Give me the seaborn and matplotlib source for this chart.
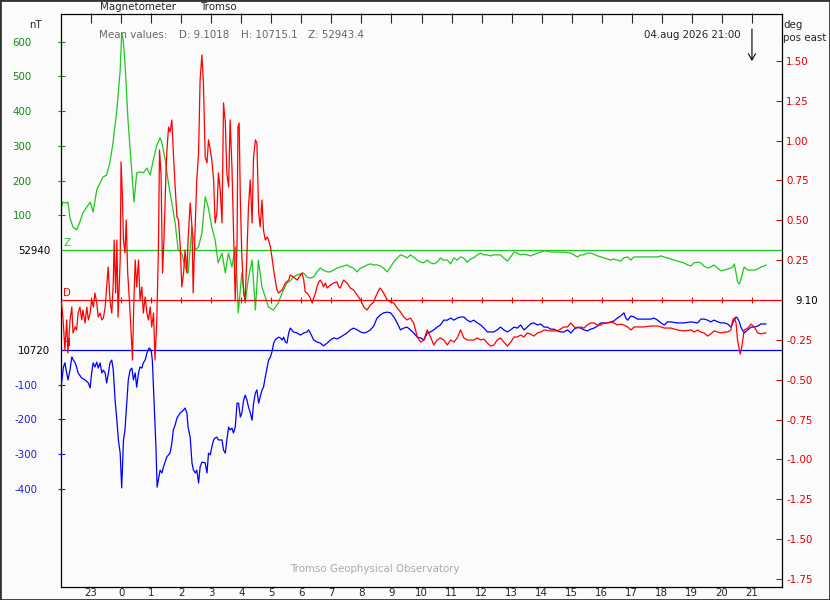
# magnetograma Tromso - componentes D, H, Z
# reproduce la figura de 24 h con lineas base y ejes independientes

import numpy as np
import matplotlib
matplotlib.use("Agg")
import matplotlib.pyplot as plt
import seaborn as sns
from matplotlib import font_manager
from matplotlib.patches import Rectangle

# lineas base y valores medios
Z0, H0, D0 = 52940, 10720, 9.10
MEAN_D, MEAN_H, MEAN_Z = "9.1018", "10715.1", "52943.4"

# tiempo en horas desde medianoche del 04.aug (empieza 22:00 del dia anterior)
z_t = [-1.98, -1.93, -1.81, -1.77, -1.70, -1.60, -1.48, -1.37, -1.27, -1.14, -1.03, -0.93, -0.81, -0.70, -0.60,
       -0.48, -0.37, -0.27, -0.14, -0.03, 0.02, 0.07, 0.13, 0.23, 0.36, 0.43, 0.52, 0.63, 0.74, 0.86, 0.97, 1.07,
       1.19, 1.30, 1.36, 1.47, 1.57, 1.69, 1.80, 1.90, 2.02, 2.13, 2.23, 2.36, 2.47, 2.58, 2.69, 2.80, 2.90, 3.02,
       3.13, 3.23, 3.36, 3.47, 3.57, 3.69, 3.80, 3.86, 3.90, 4.02, 4.13, 4.23, 4.36, 4.47, 4.57, 4.69, 4.80, 4.90,
       5.07, 5.23, 5.36, 5.52, 5.63, 5.73, 5.86, 6.07, 6.19, 6.30, 6.40, 6.52, 6.63, 6.73, 6.86, 6.97, 7.07, 7.19,
       7.30, 7.40, 7.52, 7.63, 7.73, 7.86, 7.97, 8.07, 8.19, 8.30, 8.40, 8.52, 8.63, 8.73, 8.86, 8.97, 9.07, 9.19,
       9.30, 9.40, 9.52, 9.63, 9.73, 9.86, 9.97, 10.07, 10.19, 10.30, 10.41, 10.52, 10.63, 10.73, 10.86, 10.97,
       11.07, 11.19, 11.30, 11.40, 11.52, 11.63, 11.73, 11.86, 11.97, 12.07, 12.19, 12.30, 12.40, 12.52, 12.63,
       12.74, 12.86, 12.97, 13.08, 13.19, 13.30, 13.40, 13.52, 13.63, 13.86, 14.07, 14.19, 14.30, 14.52, 14.73,
       14.97, 15.07, 15.19, 15.30, 15.40, 15.52, 15.63, 15.73, 15.86, 15.97, 16.07, 16.19, 16.30, 16.40, 16.52,
       16.63, 16.73, 16.86, 16.97, 17.07, 17.19, 17.40, 17.63, 17.86, 17.97, 18.07, 18.19, 18.30, 18.40, 18.52,
       18.63, 18.73, 18.86, 18.97, 19.07, 19.19, 19.30, 19.40, 19.52, 19.63, 19.73, 19.86, 19.97, 20.07, 20.19,
       20.30, 20.36, 20.41, 20.47, 20.52, 20.58, 20.63, 20.69, 20.74, 20.86, 20.97, 21.07, 21.19, 21.30, 21.40,
       21.47]
# Z - 52940 en nT
z_dn = [124, 138, 135, 138, 92, 66, 58, 81, 107, 124, 138, 109, 173, 193, 210, 216, 253, 308, 403, 518, 625, 605,
        539, 374, 222, 138, 222, 225, 222, 236, 216, 259, 302, 323, 308, 259, 196, 135, 78, 0, -9, -49, -66, 66, 0,
        9, 49, 153, 124, 66, 29, -37, -9, -66, -9, -49, 9, -86, -181, -66, -153, -86, -29, -173, -29, -107, -135,
        -164, -173, -153, -124, -95, -89, -78, -72, -66, -78, -81, -78, -63, -52, -58, -63, -63, -58, -52, -49, -46,
        -43, -49, -52, -63, -52, -49, -43, -40, -43, -43, -46, -52, -63, -49, -35, -23, -14, -17, -23, -14, -20,
        -29, -35, -37, -29, -37, -40, -35, -23, -29, -29, -40, -23, -29, -20, -23, -35, -26, -23, -14, -9, -14, -14,
        -17, -14, -14, -14, -23, -32, -20, -6, -9, -14, -12, -14, -17, -9, -3, -3, -6, -6, -6, -9, -14, -20, -14,
        -14, -9, -9, -12, -17, -20, -23, -26, -29, -26, -29, -32, -23, -20, -29, -20, -20, -20, -20, -20, -17, -20,
        -23, -26, -29, -32, -35, -37, -43, -46, -37, -35, -37, -46, -52, -49, -43, -52, -60, -58, -55, -52, -49,
        -40, -66, -92, -98, -86, -66, -49, -58, -58, -58, -55, -49, -46, -43]

d_t = [-1.98, -1.93, -1.87, -1.81, -1.77, -1.70, -1.64, -1.60, -1.53, -1.48, -1.43, -1.37, -1.31, -1.27, -1.20,
       -1.14, -1.09, -1.03, -0.98, -0.92, -0.87, -0.81, -0.76, -0.70, -0.64, -0.59, -0.53, -0.48, -0.43, -0.37,
       -0.31, -0.26, -0.23, -0.18, -0.14, -0.10, -0.03, 0.00, 0.04, 0.08, 0.13, 0.17, 0.22, 0.27, 0.33, 0.38, 0.42,
       0.47, 0.52, 0.58, 0.63, 0.69, 0.74, 0.80, 0.86, 0.91, 0.97, 1.02, 1.08, 1.13, 1.19, 1.24, 1.28, 1.33, 1.38,
       1.43, 1.49, 1.52, 1.58, 1.63, 1.69, 1.74, 1.80, 1.86, 1.91, 1.97, 2.02, 2.08, 2.13, 2.19, 2.23, 2.30, 2.36,
       2.40, 2.47, 2.52, 2.58, 2.63, 2.69, 2.74, 2.80, 2.86, 2.91, 2.97, 3.02, 3.08, 3.13, 3.19, 3.24, 3.30, 3.36,
       3.41, 3.47, 3.52, 3.58, 3.63, 3.69, 3.74, 3.80, 3.86, 3.89, 3.93, 3.97, 4.02, 4.08, 4.13, 4.19, 4.24, 4.30,
       4.36, 4.41, 4.47, 4.52, 4.58, 4.63, 4.69, 4.74, 4.80, 4.86, 4.91, 4.97, 5.02, 5.08, 5.13, 5.19, 5.24, 5.36,
       5.47, 5.58, 5.63, 5.74, 5.86, 5.97, 6.02, 6.08, 6.13, 6.19, 6.30, 6.36, 6.41, 6.47, 6.52, 6.58, 6.63, 6.69,
       6.74, 6.80, 6.86, 6.97, 7.08, 7.19, 7.24, 7.30, 7.36, 7.41, 7.52, 7.63, 7.74, 7.86, 7.97, 8.08, 8.19, 8.30,
       8.41, 8.47, 8.58, 8.63, 8.74, 8.86, 8.97, 9.08, 9.19, 9.30, 9.41, 9.52, 9.63, 9.74, 9.86, 9.97, 10.08,
       10.19, 10.30, 10.41, 10.52, 10.63, 10.74, 10.86, 10.97, 11.08, 11.19, 11.30, 11.41, 11.52, 11.63, 11.74,
       11.86, 11.97, 12.08, 12.19, 12.30, 12.41, 12.52, 12.63, 12.74, 12.86, 12.97, 13.08, 13.19, 13.30, 13.41,
       13.52, 13.63, 13.74, 13.86, 13.97, 14.08, 14.30, 14.52, 14.63, 14.74, 14.86, 14.97, 15.08, 15.19, 15.30,
       15.41, 15.52, 15.63, 15.74, 15.86, 15.97, 16.08, 16.19, 16.30, 16.41, 16.52, 16.63, 16.74, 16.86, 16.97,
       17.08, 17.19, 17.41, 17.63, 17.86, 17.97, 18.08, 18.30, 18.52, 18.74, 18.97, 19.08, 19.19, 19.30, 19.41,
       19.52, 19.63, 19.74, 19.86, 19.97, 20.08, 20.19, 20.30, 20.36, 20.41, 20.47, 20.52, 20.58, 20.61, 20.66,
       20.71, 20.74, 20.86, 20.97, 21.08, 21.19, 21.30, 21.41, 21.47]
# D - 9.10 en grados
d_dg = [-0.019, -0.125, -0.314, -0.125, -0.333, -0.125, -0.044, -0.207, -0.169, -0.188, -0.082, -0.044, -0.125,
        -0.063, -0.144, -0.044, -0.125, -0.082, 0.0, -0.044, 0.044, -0.019, -0.107, -0.082, -0.125, -0.113, -0.044,
        0.082, 0.207, 0.0, -0.082, 0.107, 0.376, 0.044, 0.376, -0.107, 0.251, 0.866, 0.671, 0.376, 0.295, 0.502,
        0.169, 0.019, -0.188, -0.376, -0.044, 0.251, 0.082, 0.251, 0.0, 0.082, -0.082, 0.019, -0.082, -0.125,
        -0.044, -0.169, -0.082, -0.376, -0.125, 0.295, 0.941, 0.784, 0.169, 0.395, 0.772, 0.922, 1.085, 1.054,
        1.129, 0.922, 0.709, 0.521, 0.502, 0.333, 0.082, 0.169, 0.314, 0.169, 0.376, 0.609, 0.458, 0.044, 0.483,
        0.753, 0.922, 1.380, 1.537, 1.361, 0.897, 0.860, 1.004, 0.941, 0.878, 0.753, 0.483, 0.546, 0.797, 0.690,
        0.483, 1.236, 1.110, 0.797, 0.709, 1.129, 0.834, 0.458, 0.0, 0.358, 1.085, 1.110, 0.627, 0.270, 0.044, 0.0,
        0.295, 0.583, 0.753, 0.483, 0.897, 1.004, 0.985, 0.546, 0.458, 0.627, 0.439, 0.376, 0.395, 0.376, 0.333,
        0.270, 0.188, 0.125, 0.063, 0.044, 0.063, 0.107, 0.125, 0.157, 0.144, 0.125, 0.157, 0.169, 0.125, 0.050,
        0.044, 0.013, -0.019, 0.013, 0.044, 0.082, 0.113, 0.125, 0.107, 0.082, 0.107, 0.075, 0.094, 0.107, 0.113,
        0.082, 0.075, 0.107, 0.125, 0.107, 0.075, 0.063, 0.031, 0.0, -0.044, -0.063, -0.031, -0.013, 0.019, 0.063,
        0.075, 0.044, 0.0, -0.013, -0.019, -0.050, -0.075, -0.107, -0.125, -0.113, -0.144, -0.232, -0.264, -0.251,
        -0.188, -0.232, -0.282, -0.251, -0.238, -0.251, -0.282, -0.251, -0.264, -0.238, -0.188, -0.238, -0.251,
        -0.251, -0.251, -0.238, -0.251, -0.245, -0.270, -0.289, -0.282, -0.251, -0.238, -0.264, -0.289, -0.264,
        -0.232, -0.232, -0.220, -0.232, -0.207, -0.213, -0.226, -0.207, -0.201, -0.188, -0.194, -0.194, -0.182,
        -0.169, -0.169, -0.144, -0.169, -0.176, -0.169, -0.176, -0.157, -0.144, -0.144, -0.157, -0.157, -0.144,
        -0.144, -0.138, -0.144, -0.157, -0.151, -0.157, -0.169, -0.188, -0.169, -0.169, -0.169, -0.163, -0.163,
        -0.169, -0.176, -0.176, -0.188, -0.194, -0.188, -0.201, -0.188, -0.201, -0.207, -0.226, -0.213, -0.194,
        -0.201, -0.207, -0.201, -0.201, -0.188, -0.125, -0.113, -0.144, -0.251, -0.314, -0.339, -0.295, -0.232,
        -0.188, -0.176, -0.151, -0.169, -0.207, -0.213, -0.207, -0.207]

h_t = [-1.98, -1.92, -1.87, -1.81, -1.77, -1.70, -1.64, -1.59, -1.53, -1.48, -1.43, -1.31, -1.20, -1.09, -1.03,
       -0.98, -0.93, -0.87, -0.81, -0.76, -0.70, -0.64, -0.59, -0.53, -0.48, -0.42, -0.37, -0.31, -0.26, -0.20,
       -0.14, -0.09, -0.03, 0.02, 0.08, 0.13, 0.19, 0.24, 0.30, 0.36, 0.41, 0.47, 0.52, 0.58, 0.63, 0.69, 0.74,
       0.80, 0.86, 0.93, 1.00, 1.04, 1.10, 1.16, 1.20, 1.24, 1.30, 1.36, 1.41, 1.52, 1.63, 1.69, 1.74, 1.80, 1.86,
       1.97, 2.08, 2.13, 2.19, 2.23, 2.30, 2.36, 2.41, 2.47, 2.52, 2.58, 2.63, 2.69, 2.80, 2.86, 2.91, 2.97, 3.02,
       3.08, 3.13, 3.19, 3.24, 3.36, 3.41, 3.47, 3.52, 3.58, 3.63, 3.69, 3.74, 3.80, 3.86, 3.91, 3.97, 4.02, 4.08,
       4.13, 4.19, 4.24, 4.30, 4.36, 4.41, 4.47, 4.52, 4.58, 4.63, 4.69, 4.74, 4.80, 4.86, 4.91, 4.97, 5.02, 5.08,
       5.13, 5.24, 5.30, 5.36, 5.41, 5.47, 5.52, 5.58, 5.63, 5.74, 5.86, 5.97, 6.08, 6.19, 6.24, 6.30, 6.41, 6.52,
       6.63, 6.74, 6.86, 6.97, 7.08, 7.19, 7.30, 7.41, 7.52, 7.63, 7.74, 7.86, 7.97, 8.08, 8.19, 8.30, 8.41, 8.52,
       8.63, 8.74, 8.86, 8.97, 9.08, 9.19, 9.30, 9.41, 9.52, 9.63, 9.74, 9.86, 9.97, 10.08, 10.19, 10.30, 10.41,
       10.52, 10.63, 10.74, 10.86, 10.97, 11.08, 11.19, 11.30, 11.41, 11.52, 11.63, 11.74, 11.86, 11.97, 12.08,
       12.19, 12.30, 12.41, 12.52, 12.63, 12.74, 12.86, 12.97, 13.08, 13.19, 13.30, 13.41, 13.52, 13.63, 13.74,
       13.86, 13.97, 14.08, 14.19, 14.30, 14.41, 14.52, 14.63, 14.74, 14.86, 14.97, 15.08, 15.19, 15.30, 15.41,
       15.52, 15.63, 15.74, 15.86, 15.97, 16.08, 16.19, 16.30, 16.41, 16.52, 16.63, 16.74, 16.80, 16.86, 16.97,
       17.08, 17.19, 17.41, 17.63, 17.74, 17.86, 17.97, 18.08, 18.19, 18.30, 18.52, 18.74, 18.97, 19.19, 19.30,
       19.41, 19.52, 19.63, 19.74, 19.86, 19.97, 20.08, 20.19, 20.30, 20.36, 20.41, 20.47, 20.52, 20.58, 20.63,
       20.74, 20.86, 20.97, 21.08, 21.19, 21.30, 21.41, 21.47]
# H - 10720 en nT
h_dn = [-95, -49, -37, -66, -86, -58, -20, -29, -37, -49, -66, -81, -86, -95, -109, -66, -37, -49, -35, -52, -37,
        -66, -58, -66, -95, -66, -37, -29, -58, -144, -202, -259, -297, -397, -259, -230, -153, -86, -58, -52, -86,
        -66, -107, -66, -49, -52, -37, -29, -9, 6, 0, -29, -153, -279, -395, -374, -346, -354, -337, -308, -297,
        -268, -230, -216, -196, -181, -173, -167, -181, -222, -251, -325, -346, -354, -346, -383, -337, -323, -325,
        -354, -297, -302, -279, -259, -253, -251, -259, -259, -288, -297, -259, -222, -230, -225, -239, -222, -153,
        -153, -193, -181, -144, -130, -144, -164, -181, -202, -153, -124, -115, -153, -135, -115, -107, -78, -52,
        -29, -20, -6, 20, 29, 37, 35, 29, 37, 23, 20, 49, 63, 52, 49, 43, 49, 52, 58, 49, 29, 23, 20, 12, 20, 29,
        35, 32, 37, 43, 49, 58, 63, 58, 52, 49, 52, 58, 69, 92, 101, 107, 109, 107, 95, 78, 58, 63, 66, 58, 49, 37,
        35, 29, 49, 52, 58, 66, 72, 86, 86, 92, 86, 92, 95, 95, 86, 81, 86, 78, 72, 63, 52, 52, 52, 58, 66, 58, 52,
        58, 66, 63, 72, 58, 66, 75, 78, 72, 75, 66, 66, 60, 60, 55, 52, 52, 58, 49, 60, 66, 63, 58, 55, 60, 63, 69,
        78, 78, 78, 81, 84, 92, 98, 107, 92, 86, 98, 95, 89, 89, 89, 92, 86, 78, 72, 81, 81, 78, 78, 81, 78, 89, 89,
        86, 81, 86, 81, 78, 78, 75, 66, 78, 86, 95, 92, 81, 66, 49, 58, 66, 66, 69, 75, 75, 75]

for _t, _v in ((z_t, z_dn), (d_t, d_dg), (h_t, h_dn)):
    assert len(_t) == len(_v), (len(_t), len(_v))

# ejes: horas y marcas
hour_ticks = [-1, 0, 1, 2, 3, 4, 5, 6, 7, 8, 9, 10, 11, 12, 13, 14, 15, 16, 17, 18, 19, 20, 21]
hour_labels = ["23", "0", "1", "2", "3", "4", "5", "6", "7", "8", "9", "10", "11", "12", "13", "14",
               "15", "16", "17", "18", "19", "20", "21"]
major_hours = [1, 4, 7, 10, 13, 16, 19]
z_ticks = [100, 200, 300, 400, 500, 600]
h_ticks = [-400, -300, -200, -100]
d_ticks = [-1.75, -1.50, -1.25, -1.00, -0.75, -0.50, -0.25, 0.25, 0.50, 0.75, 1.00, 1.25, 1.50]

BG = "#fbfbfb"
GREEN, GREEN_TXT = "#1ec81e", "#118a11"
BLUE, BLUE_TXT = "#0000ff", "#1a1ae6"
RED, RED_TXT = "#ff0000", "#dd0000"
LW = 0.9

names = {f.name for f in font_manager.fontManager.ttflist}
if "Liberation Sans Narrow" in names:
    FONT, FS = "Liberation Sans Narrow", 9
else:
    FONT, FS = "DejaVu Sans", 7.4

sns.set_theme(style="white")
plt.rcParams["font.family"] = [FONT, "DejaVu Sans"]
plt.rcParams["font.size"] = FS
PX = 0.72  # puntos por pixel a 100 dpi

fig = plt.figure(figsize=(8.3, 6.0), dpi=100, facecolor=BG)
ax = fig.add_axes([61 / 830, 1 - 586.5 / 600, 721 / 830, 573 / 600])
ax.set_facecolor(BG)
axH = ax.twinx()
axD = ax.twinx()

# lineas base
ax.axhline(0, color=GREEN, lw=LW)
axH.axhline(0, color=BLUE, lw=LW)
axD.axhline(0, color=RED, lw=LW)
axD.plot(hour_ticks, np.zeros(len(hour_ticks)), ls="none", marker="|", ms=4, mew=0.8, color=RED)

# curvas
sns.lineplot(x=z_t, y=z_dn, ax=ax, color=GREEN, lw=LW, estimator=None, sort=False)
sns.lineplot(x=d_t, y=d_dg, ax=axD, color=RED, lw=LW, estimator=None, sort=False)
sns.lineplot(x=h_t, y=h_dn, ax=axH, color=BLUE, lw=LW, estimator=None, sort=False)

ax.set_xlim(-2, 22)
ax.set_ylim(-969, 681)
axH.set_ylim(-681, 969)
axD.set_ylim(-1.797, 1.797)

# eje x
minor_hours = [h for h in hour_ticks if h not in major_hours]
ax.set_xticks(major_hours, labels=[hour_labels[hour_ticks.index(h)] for h in major_hours])
ax.set_xticks(minor_hours, labels=[hour_labels[hour_ticks.index(h)] for h in minor_hours], minor=True)
ax.tick_params(axis="x", which="major", direction="in", length=11 * PX, width=0.8, pad=1, labelsize=FS)
ax.tick_params(axis="x", which="minor", direction="in", length=8 * PX, width=0.8, pad=1, labelsize=FS)
top = ax.secondary_xaxis("top")
top.set_xticks(hour_ticks)
top.tick_params(axis="x", direction="in", length=10 * PX, width=0.8, labeltop=False)

# eje Z (izquierda, verde)
ax.set_yticks(z_ticks, labels=[str(v) for v in z_ticks])
ax.tick_params(axis="y", colors=GREEN_TXT, direction="inout", length=7 * PX, width=0.8, pad=18.5, labelsize=FS)
# eje H (izquierda, azul)
axH.yaxis.tick_left()
axH.set_yticks(h_ticks, labels=[str(v) for v in h_ticks])
axH.tick_params(axis="y", colors=BLUE_TXT, direction="inout", length=7 * PX, width=0.8, pad=14.5, labelsize=FS)
# eje D (derecha, rojo)
axD.set_yticks(d_ticks, labels=[f"{v:.2f}" for v in d_ticks])
axD.tick_params(axis="y", colors=RED_TXT, direction="in", length=6 * PX, width=0.8, pad=3, labelsize=FS)

for a in (ax, axH, axD):
    a.set_xlabel("")
    a.set_ylabel("")
for sp in ax.spines.values():
    sp.set_color("black")
    sp.set_linewidth(0.9)
for a in (axH, axD):
    for sp in a.spines.values():
        sp.set_visible(False)
top.spines["top"].set_visible(False)

# etiquetas de linea base
ax.annotate(str(Z0), xy=(0, 0), xycoords=("axes fraction", "data"), xytext=(-11, 0),
            textcoords="offset pixels", ha="right", va="center_baseline", color="black", fontsize=FS)
axH.annotate(str(H0), xy=(0, 0), xycoords=("axes fraction", "data"), xytext=(-11, 0),
             textcoords="offset pixels", ha="right", va="center_baseline", color="black", fontsize=FS)
axD.annotate(f"{D0:.2f}", xy=(1, 0), xycoords=("axes fraction", "data"), xytext=(13, 0),
             textcoords="offset pixels", ha="left", va="center_baseline", color="black", fontsize=FS)
for a, letra, col in ((ax, "Z", GREEN), (axD, "D", RED), (axH, "H", BLUE)):
    a.annotate(letra, xy=(0, 0), xycoords=("axes fraction", "data"), xytext=(2, 2),
               textcoords="offset pixels", ha="left", va="bottom", color=col, fontsize=FS)

# textos de cabecera
def fpos(x, y):
    return x / 830, 1 - y / 600

fig.text(*fpos(100, 7), "Magnetometer", ha="left", va="center", fontsize=FS)
fig.text(*fpos(200, 7), "Tromso", ha="left", va="center", fontsize=FS)
fig.text(*fpos(29, 25), "nT", ha="left", va="center", fontsize=FS)
fig.text(*fpos(99, 35), "Mean values:", ha="left", va="center", color="#666666", fontsize=FS)
fig.text(*fpos(179, 35), f"D: {MEAN_D}", ha="left", va="center", color="#666666", fontsize=FS)
fig.text(*fpos(241, 35), f"H: {MEAN_H}", ha="left", va="center", color="#666666", fontsize=FS)
fig.text(*fpos(308, 35), f"Z: {MEAN_Z}", ha="left", va="center", color="#666666", fontsize=FS)
fig.text(*fpos(741, 35), "04.aug 2026 21:00", ha="right", va="center", fontsize=FS)
fig.text(*fpos(783, 25), "deg", ha="left", va="center", fontsize=FS)
fig.text(*fpos(783, 38), "pos east", ha="left", va="center", fontsize=FS)
fig.text(*fpos(290, 569), "Tromso Geophysical Observatory", ha="left", va="center", color="#aaaaaa", fontsize=FS)

# flecha de la hora actual
ax.annotate("", xy=(21, 1 - 61 / 600), xycoords=("data", "figure fraction"),
            xytext=(21, 1 - 29 / 600), textcoords=("data", "figure fraction"),
            arrowprops=dict(arrowstyle="->,head_length=0.6,head_width=0.35", color="black", lw=0.8,
                            shrinkA=0, shrinkB=0), annotation_clip=False)

fig.patches.append(Rectangle((0, 0), 1, 1, transform=fig.transFigure, fill=False, ec="#333333", lw=2))

plt.savefig("out.png", dpi=100, facecolor=BG)
plt.close()
print("[OK] out.png")
